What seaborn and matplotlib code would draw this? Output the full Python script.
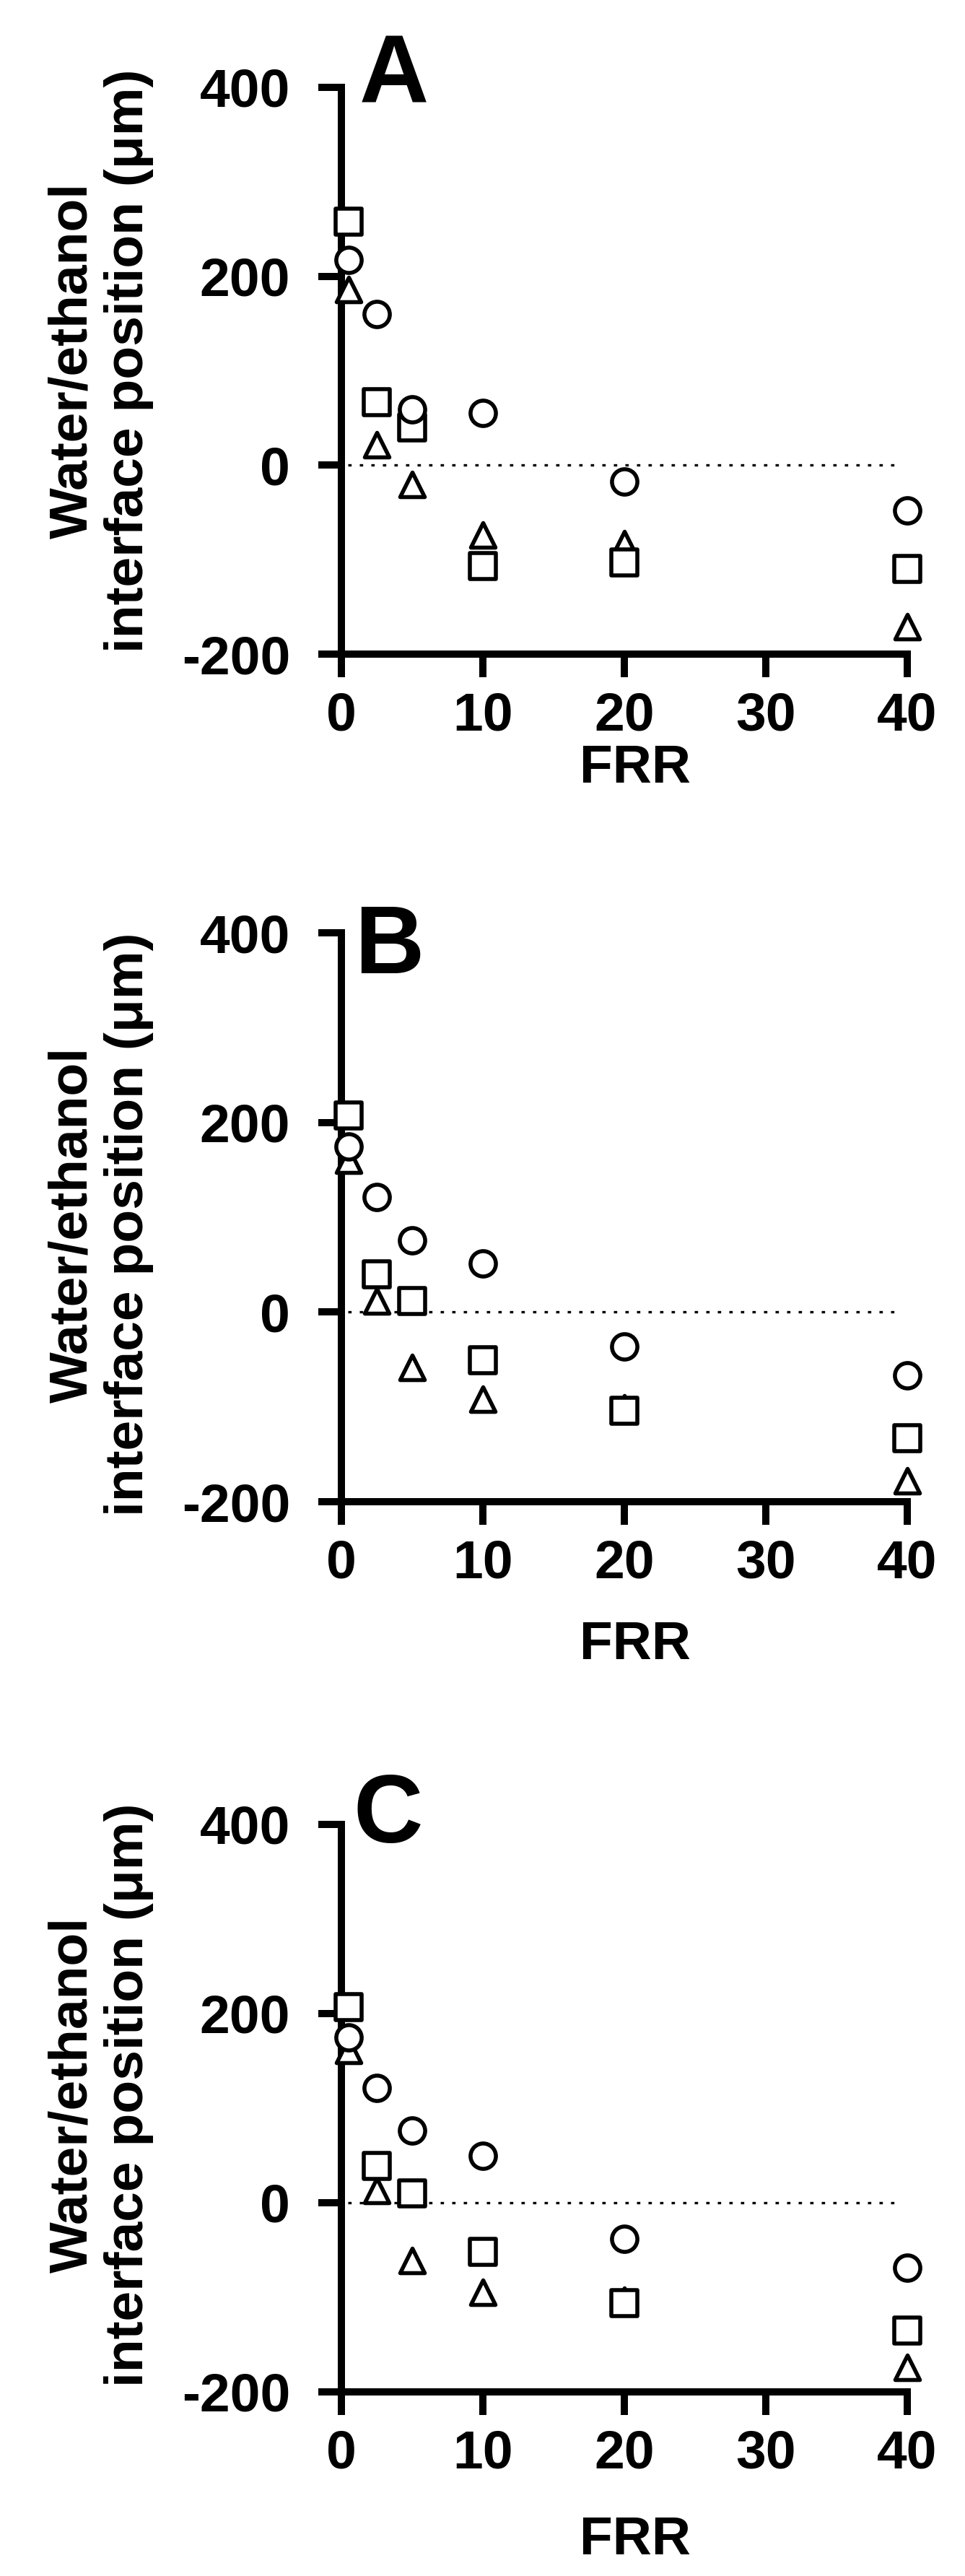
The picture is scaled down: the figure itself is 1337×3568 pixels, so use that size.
import matplotlib
matplotlib.use("Agg")
import matplotlib.pyplot as plt
import seaborn as sns

# ---------------- data ----------------
frr = [0.5, 2.5, 5, 10, 20, 40]
panel_labels = ["A", "B", "C"]

a_circle = [217, 160, 59, 55, -17, -48]
a_square = [258, 67, 40, -107, -103, -110]
a_triangle = [186, 22, -20, -74, -83, -171]

b_circle = [175, 121, 76, 51, -36, -67]
b_square = [207, 40, 12, -51, -104, -133]
b_triangle = [160, 12, -58, -92, -101, -178]

c_circle = [175, 121, 76, 50, -38, -69]
c_square = [207, 39, 10, -52, -106, -135]
c_triangle = [161, 13, -61, -95, -103, -174]

x_ticks = [0, 10, 20, 30, 40]
y_ticks = [-200, 0, 200, 400]
x_label = "FRR"
y_label = "Water/ethanol\ninterface position (\u03bcm)"

# ---------------- style ----------------
sns.set_theme(style="ticks")
plt.rcParams["font.family"] = ["Liberation Sans", "DejaVu Sans"]
plt.rcParams["font.weight"] = "bold"
plt.rcParams["axes.labelweight"] = "bold"
plt.rcParams["axes.unicode_minus"] = False
plt.rcParams["text.color"] = "black"
plt.rcParams["axes.labelcolor"] = "black"
plt.rcParams["xtick.color"] = "black"
plt.rcParams["ytick.color"] = "black"

W, H = 1337, 3568
fig = plt.figure(figsize=(W / 100, H / 100), dpi=100)

# pixel layout (top, bottom) of each panel's plotting area
left_px, right_px = 473, 1257
panel_px = [(121, 906), (1292, 2080), (2527, 3313)]
ylab_y = [0.518, 0.487, 0.523]
xlab_y = [-0.158, -0.208, -0.218]
letter_pos = [(0.031, 0.973), (0.023, 0.929), (0.021, 0.968)]

series = [
    (a_circle, a_square, a_triangle),
    (b_circle, b_square, b_triangle),
    (c_circle, c_square, c_triangle),
]

lw_axis = 7.2
for i, (top, bot) in enumerate(panel_px):
    ax = fig.add_axes([left_px / W, 1 - bot / H, (right_px - left_px) / W, (bot - top) / H])
    circ, sq, tri = series[i]

    ax.axhline(0, xmin=0.012, xmax=0.99, color="black", lw=2.4,
               linestyle=(0, (1.4, 3.4)), zorder=1)

    common = dict(color="white", edgecolor="black", linewidth=4,
                  clip_on=False, ax=ax, legend=False)
    sns.scatterplot(x=frr, y=tri, marker="^", s=600, zorder=3, **common)
    sns.scatterplot(x=frr, y=sq, marker="s", s=680, zorder=4, **common)
    sns.scatterplot(x=frr, y=circ, marker="o", s=640, zorder=5, **common)

    ax.set_xlim(0, 40)
    ax.set_ylim(-200, 400)
    ax.set_xticks(x_ticks)
    ax.set_yticks(y_ticks)
    sns.despine(ax=ax)
    for s in ["left", "bottom"]:
        ax.spines[s].set_linewidth(lw_axis)
        ax.spines[s].set_color("black")
    ax.tick_params(axis="both", direction="out", length=23, width=lw_axis,
                   labelsize=54, colors="black")
    ax.tick_params(axis="x", pad=14)
    ax.tick_params(axis="y", pad=28)
    for lab in ax.get_xticklabels() + ax.get_yticklabels():
        lab.set_fontweight("bold")

    ax.set_xlabel(x_label, fontsize=54, fontweight="bold", color="black")
    ax.set_ylabel(y_label, fontsize=54, fontweight="bold", linespacing=1.15,
                  color="black")
    ax.xaxis.set_label_coords(0.519, xlab_y[i])
    ax.yaxis.set_label_coords(-0.332, ylab_y[i])

    lx, ly = letter_pos[i]
    ax.text(lx, ly, panel_labels[i], transform=ax.transAxes, fontsize=96,
            fontweight="bold", ha="left", va="baseline", color="black")

fig.savefig("out.png", dpi=100, facecolor="white")
